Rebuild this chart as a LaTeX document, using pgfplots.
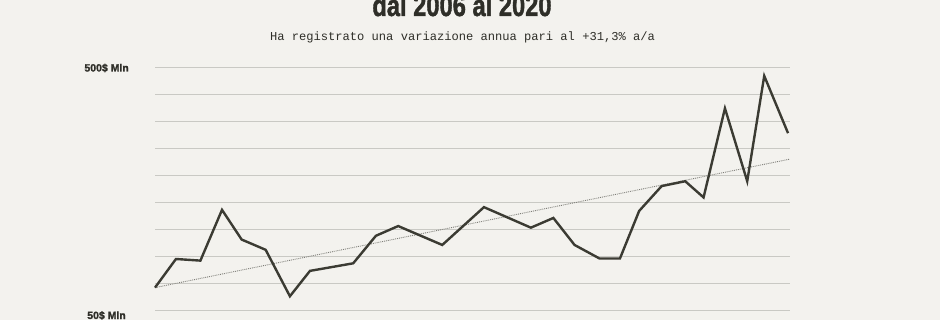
\documentclass[border=0pt]{standalone}
\usepackage{pgfplots}
\pgfplotsset{compat=1.18}
\usepackage{fontspec}
\setmainfont{Liberation Sans}
\newfontfamily\monofont{Liberation Mono}
\newfontfamily\heavyfont[BoldFeatures={FakeBold=1.6}]{Liberation Sans}
\definecolor{bg}{HTML}{F3F2EE}
\definecolor{gridc}{HTML}{C9C9C4}
\definecolor{linec}{HTML}{3B3B33}
\definecolor{trendc}{HTML}{7E7E78}
\definecolor{textc}{HTML}{2E2E28}
\begin{document}
\begin{tikzpicture}[x=1pt,y=1pt]
\useasboundingbox (0,0) rectangle (940,320);
\clip (0,0) rectangle (940,320);
\fill[bg] (0,0) rectangle (940,320);
\begin{axis}[
  at={(155pt,9.7pt)}, anchor=south west,
  width=635pt, height=243pt, scale only axis,
  xmin=0, xmax=29.09, ymin=50, ymax=500,
  axis line style={draw=none},
  ytick={50,100,...,500}, yticklabels={},
  xtick=\empty,
  major tick length=0pt,
  ymajorgrids,
  grid style={gridc, line width=1.4pt},
  clip=false,
]
\addplot[trendc, densely dotted, line width=0.9pt] coordinates {(0,92) (29.09,330)};
\addplot[linec, line width=2.4pt, line join=miter, mark=none] coordinates {
(0,92) (0.96,145) (2.08,142) (3.07,236) (3.97,181) (5.07,162) (6.18,76) (7.1,123)
(9.08,137) (10.12,188) (11.14,206) (13.16,171) (15.07,241) (17.22,203) (18.25,221)
(19.22,171) (20.36,146) (21.3,146) (22.18,234) (23.21,280) (24.29,289) (25.13,259)
(26.11,424) (27.13,289) (27.91,484) (29,378)};
\end{axis}
\node[anchor=east, font=\heavyfont\fontsize{10.5}{12}\selectfont\bfseries, text=textc, inner sep=0pt] at (129,252) {500\$ Mln};
\node[anchor=east, font=\heavyfont\fontsize{10.5}{12}\selectfont\bfseries, text=textc, inner sep=0pt] at (126,4.5) {50\$ Mln};
\node[anchor=base, inner sep=0pt, text=textc] at (462,304) {\scalebox{0.79}[1]{\heavyfont\fontsize{30}{32}\selectfont\bfseries dal 2006 al 2020}};
\node[anchor=base, inner sep=0pt, text=textc] at (462.5,279.5) {\monofont\fontsize{12.1}{14}\selectfont Ha registrato una variazione annua pari al +31,3\% a/a};
\end{tikzpicture}
\end{document}
